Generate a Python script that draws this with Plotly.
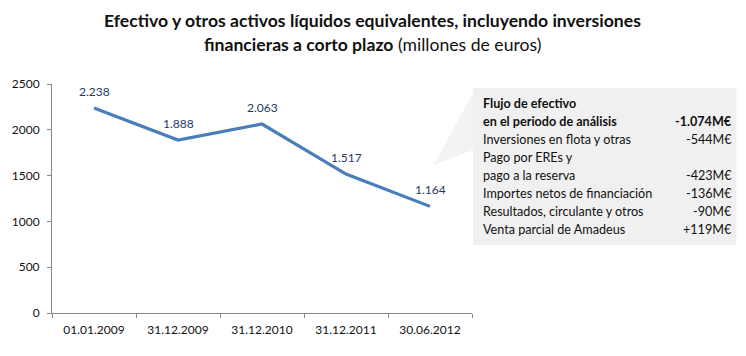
import plotly.graph_objects as go

categories = ["01.01.2009", "31.12.2009", "31.12.2010", "31.12.2011", "30.06.2012"]
values = [2238, 1888, 2063, 1517, 1164]
value_labels = ["2.238", "1.888", "2.063", "1.517", "1.164"]
y_ticks = [0, 500, 1000, 1500, 2000, 2500]

box_labels = ["<b>Flujo de efectivo</b>", "<b>en el periodo de análisis</b>", "Inversiones en flota y otras",
              "Pago por EREs y", "pago a la reserva", "Importes netos de financiación",
              "Resultados, circulante y otros", "Venta parcial de Amadeus"]
box_values = ["", "<b>-1.074M€</b>", "-544M€", "", "-423M€", "-136M€", "-90M€", "+119M€"]

W, H = 746, 356
L, R, T, B = 43, 274, 84, 43
pw, ph = W - L - R, H - T - B

def px(x):
    return (x - L) / pw

def py(y):
    return (H - B - y) / ph

fig = go.Figure()
fig.add_trace(go.Scatter(
    x=categories, y=values, mode="lines",
    line=dict(color="#4a7ebb", width=3.2), hoverinfo="skip"))

for c, v, lab in zip(categories, values, value_labels):
    fig.add_annotation(x=c, y=v, text=lab, showarrow=False, yshift=17,
                       font=dict(color="#1f3864", size=12, family="Lato"))

fig.update_layout(
    width=W, height=H, margin=dict(l=L, r=R, t=T, b=B),
    paper_bgcolor="white", plot_bgcolor="white", showlegend=False,
    font=dict(family="Lato", color="#222222"),
    xaxis=dict(type="category", range=[-0.5, 4.5], showgrid=False, showline=True,
               linecolor="#888888", ticks="outside", tickson="boundaries", ticklen=4,
               tickcolor="#888888", tickfont=dict(size=12, color="#111111"),
               ticklabelstandoff=6),
    yaxis=dict(range=[0, 2500], tickvals=y_ticks, showgrid=False, showline=True,
               linecolor="#888888", ticks="outside", ticklen=4, tickcolor="#888888",
               zeroline=False, tickfont=dict(size=12, color="#111111"),
               ticklabelstandoff=5),
)

# title
fig.add_annotation(xref="paper", yref="paper", x=px(370), y=py(20), showarrow=False,
                   text="<b>Efectivo y otros activos líquidos equivalentes, incluyendo inversiones</b>",
                   font=dict(size=17.6, family="Lato", color="#111111"), xanchor="center", yanchor="middle")
fig.add_annotation(xref="paper", yref="paper", x=px(370), y=py(44), showarrow=False,
                   text="<b>financieras a corto plazo</b> (millones de euros)",
                   font=dict(size=17.6, family="Lato", color="#111111"), xanchor="center", yanchor="middle")

# callout box
fig.add_shape(type="path", xref="paper", yref="paper", layer="below",
              path=f"M {px(473)} {py(93)} L {px(433)} {py(165)} L {px(473)} {py(150)} Z",
              fillcolor="#f3f3f3", line=dict(width=0))
fig.add_shape(type="rect", xref="paper", yref="paper", layer="below",
              x0=px(473), x1=px(742), y0=py(88), y1=py(245),
              fillcolor="#f0f0f0", line=dict(width=0))

y0, dy = 103, 18.1
for i, (lab, val) in enumerate(zip(box_labels, box_values)):
    yy = py(y0 + i * dy)
    fig.add_annotation(xref="paper", yref="paper", x=px(481), y=yy, text=lab, showarrow=False,
                       xanchor="left", yanchor="middle", font=dict(size=12.6, family="Lato", color="#111111"))
    if val:
        fig.add_annotation(xref="paper", yref="paper", x=px(740), y=yy, text=val, showarrow=False,
                           xanchor="right", yanchor="middle", font=dict(size=12.6, family="Lato", color="#111111"))

fig.write_html("out.html", config={"displayModeBar": False},
               post_script="document.body.style.margin='0';document.body.style.padding='0';")
